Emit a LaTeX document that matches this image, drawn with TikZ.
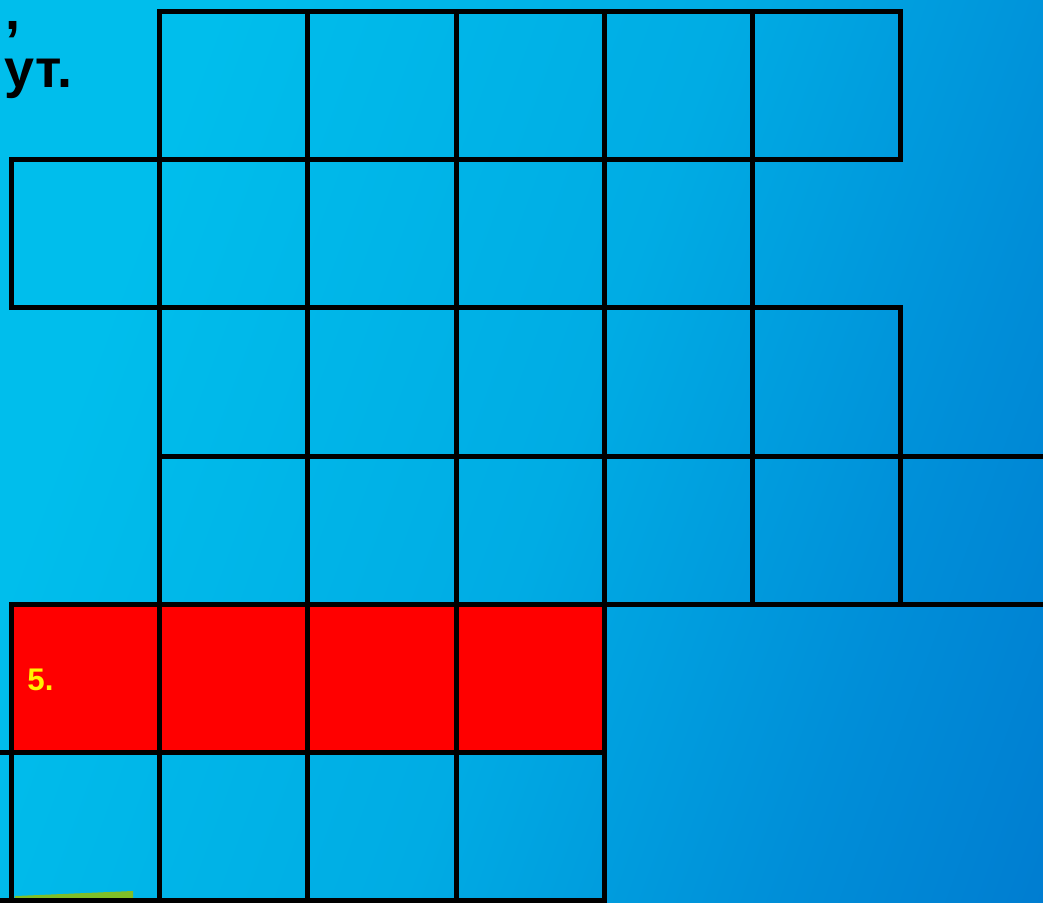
\documentclass[tikz,border=0pt]{standalone}
\usepackage{fontspec}
\setsansfont{Liberation Sans}
\usetikzlibrary{calc, shadings}
\definecolor{skya}{RGB}{0,190,236}
\definecolor{skyb}{RGB}{0,172,228}
\definecolor{skyc}{RGB}{0,142,216}
\definecolor{skyd}{RGB}{0,100,198}
\definecolor{cellred}{RGB}{255,0,0}
\definecolor{leaf}{RGB}{128,190,40}
\pgfdeclarehorizontalshading{sky}{100bp}{color(0bp)=(skya); color(28bp)=(skya); color(52bp)=(skyb); color(70bp)=(skyc); color(100bp)=(skyd)}

\begin{document}
\begin{tikzpicture}[
  x=1.5cm, y=-1.5cm,
  cell/.style={draw=black, line width=1.45pt},
  hot/.style={cell, fill=cellred},
  note/.style={font=\sffamily\bfseries\fontsize{15.5}{18}\selectfont, inner sep=0pt},
  num/.style={font=\sffamily\bfseries\fontsize{9}{11}\selectfont, text=yellow, inner sep=0pt}
]
  \useasboundingbox (0,0) rectangle (7.033,6.089);

  % Фон
  \shade[shading=sky, shading angle=-20] (0,0) rectangle (7.033,6.089);
  \fill[leaf] (0.101,6.042) -- (0.897,6.008) -- (0.897,6.089) -- (0.101,6.089) -- cycle;

  % Текст
  \node[note, anchor=base west, text height=0.4ex] (comma) at (0.03,0.2) {,};
  \node[note, anchor=base east] (tail) at (0.49,0.593) {ут.};

  % Клетки
  \foreach \r/\a/\b in {0/1/5, 1/0/4, 2/1/5, 3/1/6, 5/-1/3}
    \foreach \i in {\a,...,\b}
      \draw[cell] (\i+0.075,\r+0.075) rectangle ++(1,1);

  % Ответ 5
  \foreach \i in {0,...,3}
    \draw[hot] (\i+0.075,4.075) rectangle ++(1,1);
  \node[num, anchor=base west] (five) at (0.18,4.653) {5.};

\end{tikzpicture}
\end{document}
